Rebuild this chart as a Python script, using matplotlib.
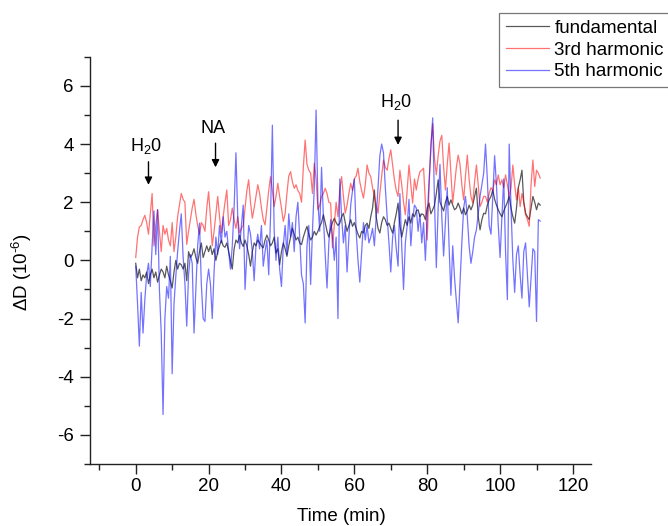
import numpy as np
import matplotlib
matplotlib.use("Agg")
import matplotlib.pyplot as plt
from matplotlib.ticker import MultipleLocator

plt.rcParams['font.family'] = ['Liberation Sans', 'DejaVu Sans']
plt.rcParams['mathtext.fontset'] = 'custom'
plt.rcParams['mathtext.rm'] = 'Liberation Sans'
plt.rcParams['mathtext.it'] = 'Liberation Sans:italic'
plt.rcParams['mathtext.default'] = 'regular'
plt.rcParams['axes.unicode_minus'] = False

# time axis: 0 .. 111 min in 0.5 min steps
time_min = np.arange(0, 111.01, 0.5)

fundamental = [
    -0.1, -0.6, -0.3, -0.7, -0.5, -0.6, -0.4, -0.8, -0.5, -0.3, -0.6, -0.4, -0.75, -0.5, -0.3, -0.4, -0.6, -0.2, -0.5, -0.7,
    -0.95, -0.4, 0.0, -0.3, -0.1, -0.15, -0.3, -0.1, -0.7, 0.3, 0.1, 0.2, 0.4, 0.1, -0.1, 0.3, 0.6, 0.1, 0.3, 0.5,
    0.3, 0.5, 0.2, 0.4, 0.0, 0.3, 0.5, 0.7, 0.5, 0.45, 0.6, 0.3, 0.0, -0.3, 0.4, 0.7, 0.6, 0.87, 0.6, 0.48,
    0.7, 0.5, 0.2, -0.2, 0.3, 0.6, 0.5, 0.7, 0.6, 0.5, 0.43, 0.7, 0.87, 0.7, 0.5, 0.6, 0.8, 0.25, 0.4, -0.15,
    0.3, 0.6, 0.4, 0.14, 0.5, 0.8, 1.1, 0.9, 0.7, 0.8, 0.6, 0.54, 0.8, 1.0, 1.17, 0.9, 0.7, 0.8, 1.0, 0.87,
    1.0, 1.17, 1.3, 1.57, 1.3, 1.0, 0.8, 1.1, 1.3, 1.45, 1.3, 1.2, 1.28, 1.5, 1.62, 1.3, 1.0, 1.2, 1.4, 1.17,
    1.3, 1.1, 0.9, 0.77, 1.0, 0.94, 1.2, 1.28, 1.1, 1.5, 1.8, 2.42, 1.5, 1.1, 0.94, 1.3, 1.5, 1.4, 1.2, 1.28,
    1.1, 0.94, 1.3, 1.6, 1.97, 1.2, 0.8, 1.1, 1.4, 1.2, 1.5, 1.28, 1.6, 1.5, 1.7, 1.74, 1.5, 1.6, 1.57, 1.4,
    1.8, 1.97, 1.6, 1.74, 1.9, 2.3, 2.77, 2.0, 1.85, 1.7, 2.0, 2.2, 1.9, 2.08, 1.9, 1.74, 1.8, 1.97, 1.8, 1.6,
    1.8, 1.57, 1.7, 1.9, 1.74, 1.9, 2.2, 2.48, 1.5, 1.05, 1.4, 1.62, 1.6, 1.9, 2.08, 2.2, 2.42, 2.1, 1.9, 1.74,
    1.6, 1.5, 1.7, 1.85, 2.0, 2.2, 1.8, 1.5, 1.28, 1.8, 2.5, 2.77, 3.1, 2.0, 1.62, 1.5, 1.4, 1.8, 2.2, 2.0,
    1.74, 1.97, 1.9,
]

harmonic3 = [
    0.1, 0.8, 1.15, 1.2, 1.4, 1.55, 1.3, 0.9, 1.6, 2.3, 0.5, 1.2, 1.75, 1.0, 0.3, 1.2, 0.9, 1.1, 0.7, 0.5,
    1.3, 0.3, 0.8, 1.5, 1.9, 2.3, 2.1, 2.0, 0.55, 1.0, 1.4, 1.8, 2.1, 1.6, 1.2, 0.9, 1.3, 1.2, 1.0, 1.8,
    2.36, 1.5, 0.5, 1.0, 1.6, 2.2, 1.5, 0.94, 1.5, 2.0, 2.42, 1.2, 1.4, 1.8, 1.4, 1.1, 1.5, 0.94, 1.1, 1.2,
    1.8, 2.4, 2.77, 2.0, 1.45, 1.8, 2.2, 2.6, 2.3, 1.8, 1.4, 1.22, 1.8, 2.4, 2.88, 2.4, 1.85, 2.2, 2.65, 2.2,
    1.8, 1.34, 1.6, 2.3, 2.9, 3.05, 2.7, 2.48, 2.6, 2.4, 2.3, 2.0, 3.2, 4.14, 3.3, 3.1, 3.0, 2.3, 3.34, 2.8,
    1.74, 1.9, 2.2, 2.3, 2.48, 2.3, 2.0, 1.97, 0.43, 1.2, 2.0, 1.5, 2.4, 2.88, 2.2, 1.62, 1.9, 2.3, 2.65, 2.4,
    2.8, 2.9, 3.17, 2.7, 2.4, 2.14, 2.6, 3.28, 3.0, 2.88, 2.5, 2.2, 1.9, 1.62, 2.3, 2.9, 3.45, 3.2, 3.1, 3.5,
    3.8, 3.3, 2.77, 2.4, 2.2, 3.1, 2.6, 2.0, 1.57, 2.4, 3.28, 2.6, 1.97, 2.8, 2.42, 2.8, 3.05, 3.1, 3.17, 2.0,
    0.7, 2.5, 4.0, 4.7, 3.5, 2.94, 3.6, 4.1, 4.3, 3.2, 2.42, 3.3, 4.03, 3.0, 1.97, 2.6, 3.2, 3.62, 3.3, 2.6,
    2.08, 2.9, 3.62, 2.8, 2.2, 1.97, 2.7, 3.28, 2.6, 1.85, 2.0, 2.2, 2.2, 2.0, 2.3, 2.5, 2.4, 2.77, 2.6, 2.94,
    2.6, 2.77, 2.5, 2.94, 2.6, 2.2, 2.5, 3.28, 2.6, 2.08, 2.5, 1.85, 2.3, 2.0, 1.57, 1.4, 1.17, 2.6, 3.45, 2.54,
    3.1, 3.0, 2.83,
]

harmonic5 = [
    -0.2, -1.5, -2.95, -1.1, -2.5, -1.35, -0.5, -0.1, -0.9, 0.5, 1.7, 0.2, 1.74, -1.0, -2.5, -5.3, -2.0, -0.9, -1.3, 0.14,
    -3.9, -1.5, -0.55, 0.3, 1.0, 1.6, 0.14, -0.8, -2.26, -0.5, 0.2, -0.1, -2.5, -1.0, 0.5, 1.28, -0.8, -2.0, -2.1, -0.8,
    -0.3, -0.8, -2.0, -0.4, 0.8, 0.2, 1.2, 0.6, 1.5, 0.8, 1.0, 0.3, -0.3, 0.5, 1.8, 3.7, 1.5, 0.4, 1.2, 1.9,
    -1.0, 0.2, 1.2, 0.9, 0.3, -0.7, 0.5, 0.9, 0.4, 1.2, -0.2, 0.3, 0.7, -0.5, 1.5, 4.65, 1.0, 0.0, 0.8, -0.3,
    -0.9, 0.5, 1.2, 0.2, 1.6, 0.8, 1.3, 0.3, 1.5, 2.0, 0.8, -0.5, -0.8, -2.15, 0.5, 1.2, -0.83, 1.0, 2.5, 5.17,
    2.0, 1.0, 3.2, 1.5, 0.2, -0.95, 0.6, 1.4, 0.8, 0.0, 0.8, -2.0, 2.8, 1.5, 0.6, 1.2, -0.4, 0.8, 1.9, 2.4,
    2.8, 1.0, 0.0, -0.75, 0.3, 1.3, 0.7, 1.2, 0.6, 0.8, 1.1, 0.5, 1.5, 2.5, 3.6, 4.0, 3.7, 2.5, 1.5, 0.6,
    -0.4, 0.8, 1.2, 0.4, -0.2, 2.3, 0.5, -1.0, 0.6, 1.2, 2.1, 0.5, 1.4, 1.9, 1.8, 1.0, 1.6, 0.6, 1.3, 0.0,
    1.5, 2.7, 3.8, 4.9, 2.0, -0.25, 1.8, 3.3, 1.5, 0.15, 1.3, 2.5, 0.5, -1.2, 0.5, -0.6, -1.4, -2.15, -0.8, 0.6,
    1.8, 2.2, 1.5, 0.5, -0.1, 0.3, 0.8, 1.05, 1.6, 2.2, 2.6, 3.0, 4.0, 2.8, 1.2, 0.9, 2.2, 3.6, 2.6, 1.2,
    0.1, 1.5, 2.8, 0.3, -1.35, 4.0, 1.8, 0.0, -1.1, 0.2, 0.5, -0.5, -1.3, 0.3, 0.6, -0.5, -1.6, -0.6, 0.4, 0.3,
    -2.1, 1.4, 1.35,
]

series_labels = ['fundamental', '3rd harmonic', '5th harmonic']

x_ticks = [0, 20, 40, 60, 80, 100, 120]
y_ticks = [-6, -4, -2, 0, 2, 4, 6]

# annotations: (label, x, text_y, arrow_start_y, arrow_end_y)
events = [
    ('H$_2$0', 3.5, 3.95, 3.39, 2.6),
    ('NA', 21.9, 4.54, 4.03, 3.2),
    ('H$_2$0', 72.0, 5.45, 4.82, 3.97),
]

fig = plt.figure(figsize=(6.68, 5.26), dpi=100)
ax = fig.add_axes([0.135, 0.118, 0.750, 0.774])

ax.plot(time_min, fundamental, color='black', lw=0.9, alpha=0.65, label=series_labels[0])
ax.plot(time_min, harmonic3, color='#ff0000', lw=0.9, alpha=0.55, label=series_labels[1])
ax.plot(time_min, harmonic5, color='#0000ff', lw=0.9, alpha=0.55, label=series_labels[2])

ax.set_xlim(-12.5, 125)
ax.set_ylim(-7, 7)
ax.set_xticks(x_ticks)
ax.set_yticks(y_ticks)
ax.xaxis.set_minor_locator(MultipleLocator(10))
ax.yaxis.set_minor_locator(MultipleLocator(1))

for s in ['top', 'right']:
    ax.spines[s].set_visible(False)
for s in ['left', 'bottom']:
    ax.spines[s].set_linewidth(1.0)
    ax.spines[s].set_color('#222222')

ax.tick_params(which='major', direction='out', length=7, width=1.0, labelsize=13.5, color='#222222', pad=5)
ax.tick_params(which='minor', direction='out', length=4, width=1.0, color='#222222')
ax.tick_params(axis='x', which='major', pad=3)

ax.set_xlabel('Time (min)', fontsize=13.5)
ax.set_ylabel(r'$\Delta$D (10$^{\text{-}6}$)', fontsize=13.5)
ax.xaxis.set_label_coords(0.502, -0.108)
ax.yaxis.set_label_coords(-0.113, 0.47)

for label, x, ty, y0, y1 in events:
    ax.text(x - 0.6, ty, label, ha='center', va='center', fontsize=13)
    ax.annotate('', xy=(x, y1), xytext=(x, y0),
                arrowprops=dict(arrowstyle='-|>', color='black', lw=1.0,
                                mutation_scale=11, shrinkA=0, shrinkB=0))

leg = fig.legend(loc='upper left', bbox_to_anchor=(0.747, 0.975), fontsize=13.5,
                 frameon=True, fancybox=False, edgecolor='#555555',
                 handlelength=2.3, handletextpad=0.3, labelspacing=0.25,
                 borderpad=0.35, borderaxespad=0)
leg.get_frame().set_linewidth(0.9)

fig.savefig('out.png', dpi=100)
